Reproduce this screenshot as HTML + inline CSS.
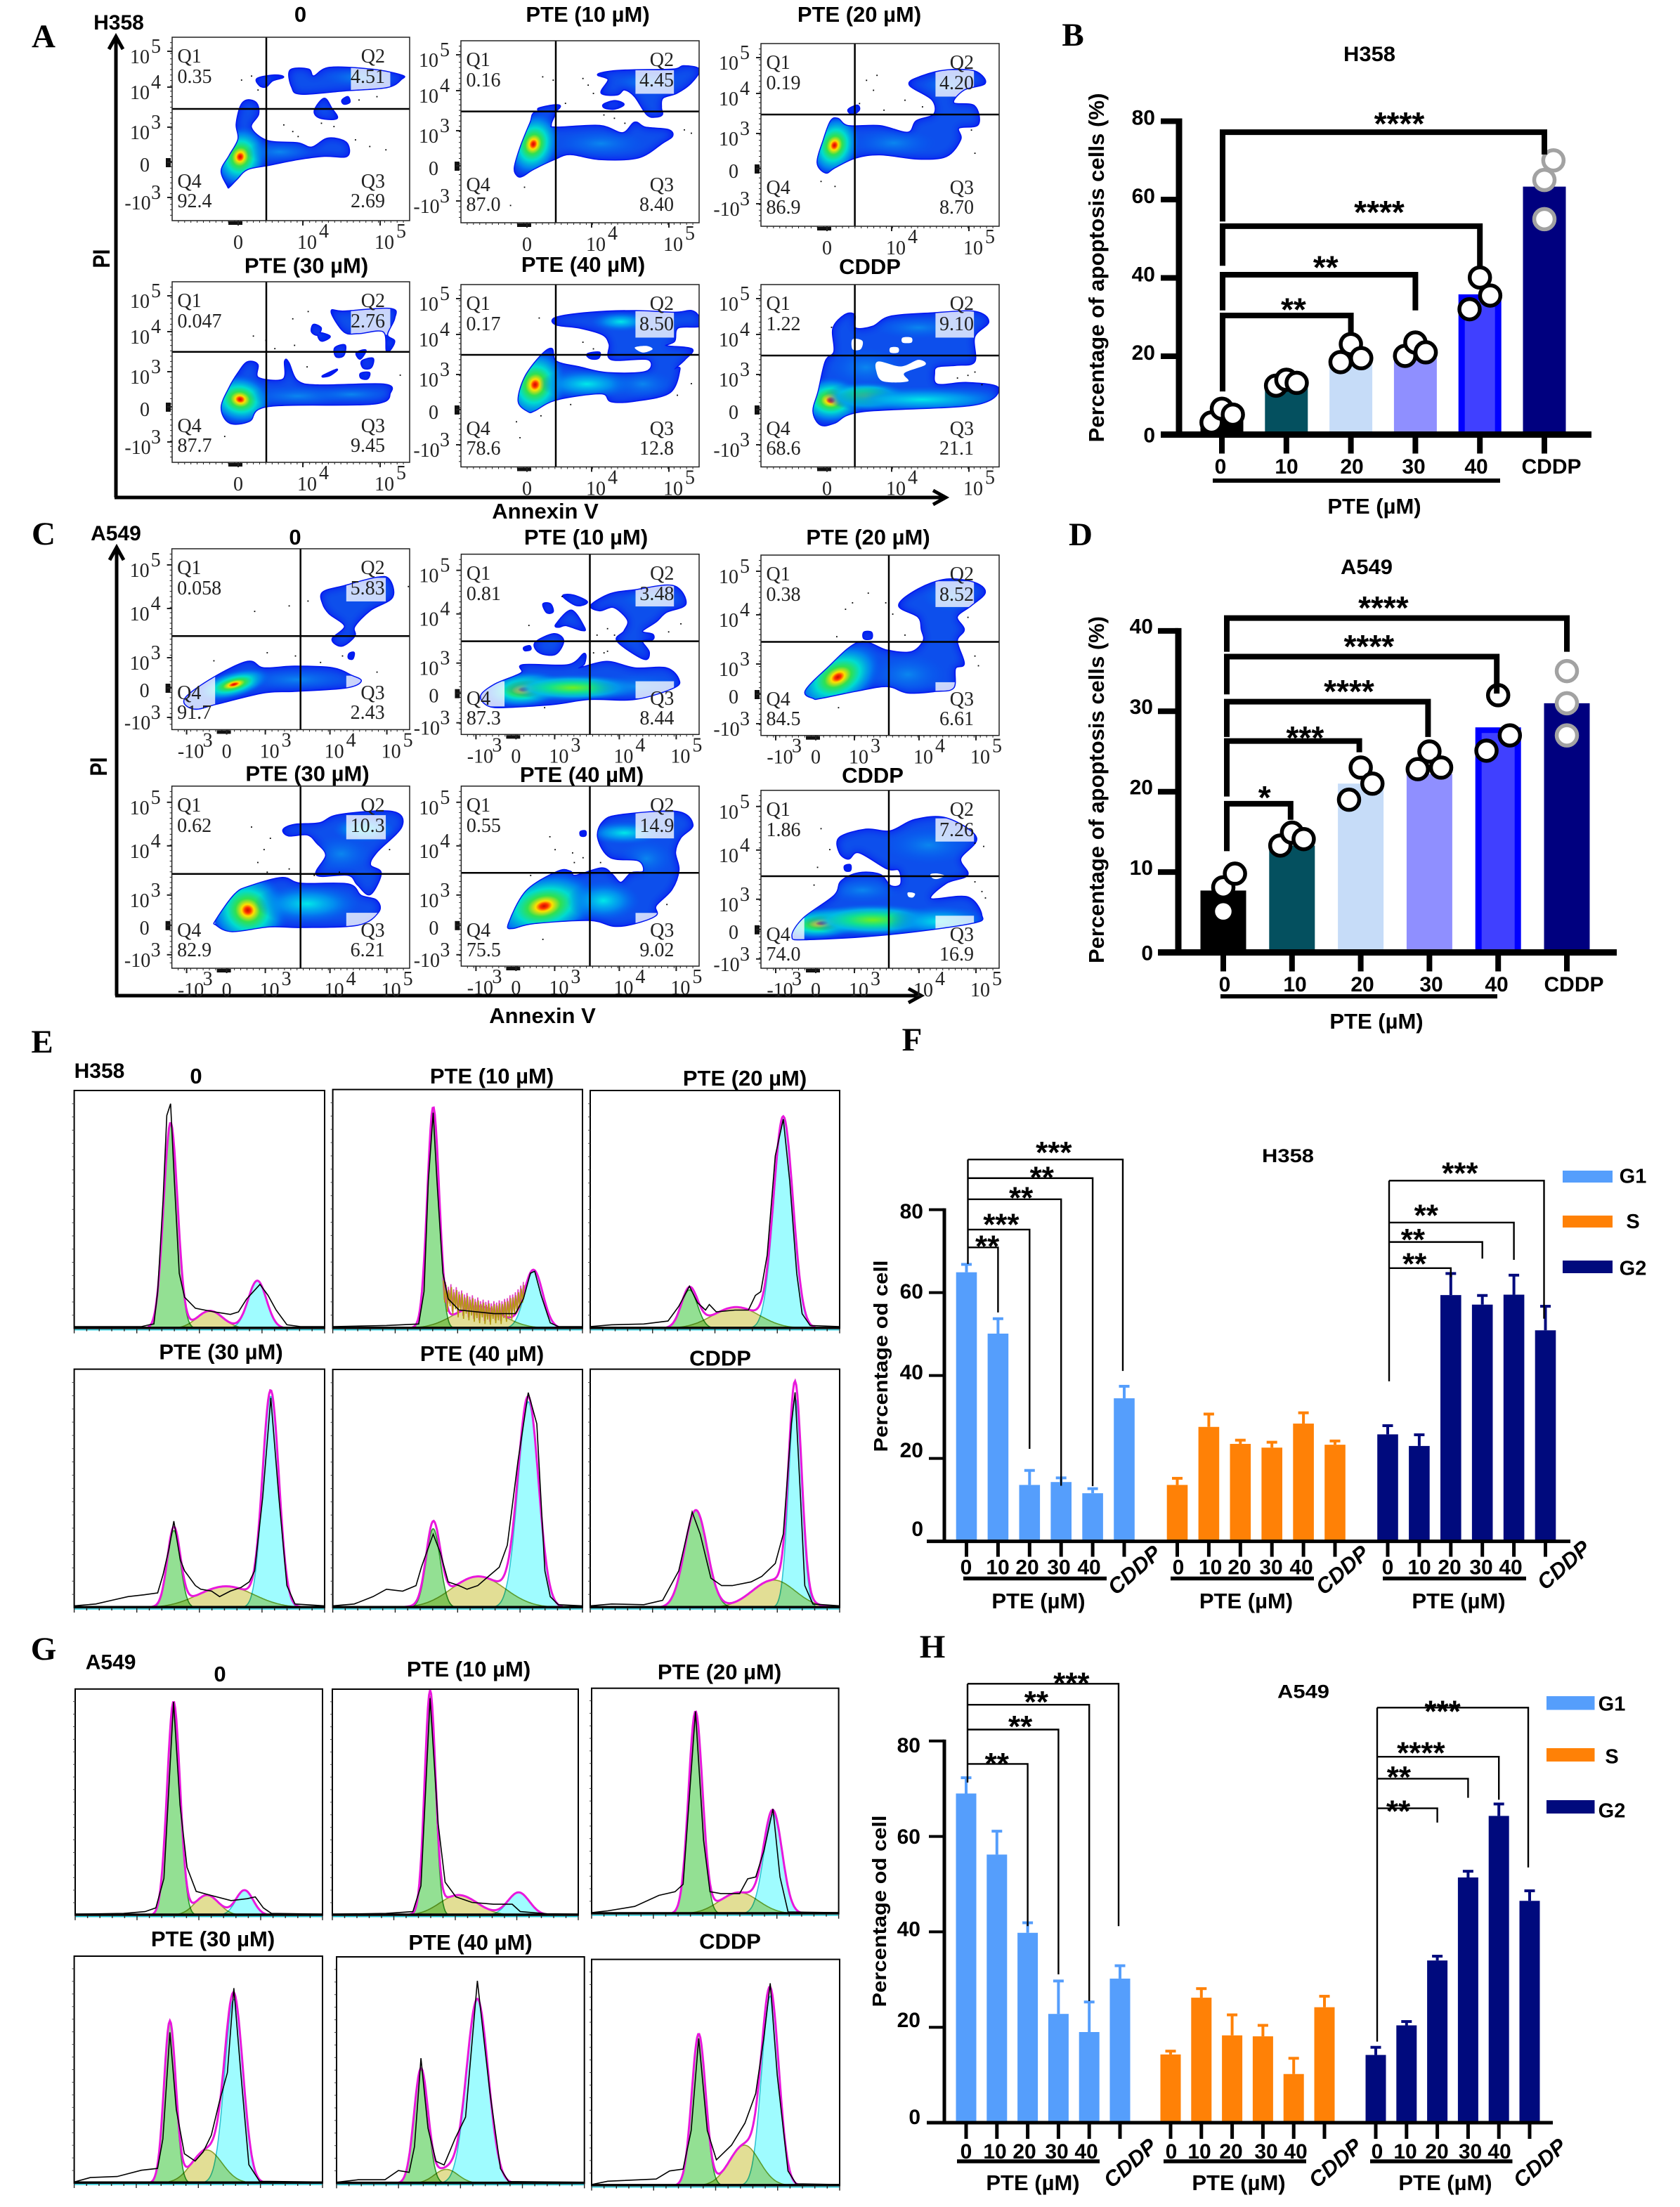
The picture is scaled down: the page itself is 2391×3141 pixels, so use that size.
<!DOCTYPE html>
<html><head><meta charset="utf-8"><title>Apoptosis and cell cycle figure</title>
<style>html,body{margin:0;padding:0;background:#fff}svg{display:block}</style></head>
<body>
<svg id="figure" xmlns="http://www.w3.org/2000/svg" width="2391" height="3141" viewBox="0 0 2391 3141">
<defs>
<filter id="soft" x="-20%" y="-20%" width="140%" height="140%"><feGaussianBlur stdDeviation="6"/></filter>
<radialGradient id="grad-hot"><stop offset="0" stop-color="#c81000"/><stop offset=".07" stop-color="#ff3000"/><stop offset=".15" stop-color="#ffe000"/><stop offset=".3" stop-color="#30e050"/><stop offset=".5" stop-color="#00dcd0"/><stop offset=".75" stop-color="#0088f0" stop-opacity=".85"/><stop offset="1" stop-color="#0050f0" stop-opacity="0"/></radialGradient>
<radialGradient id="grad-warm"><stop offset="0" stop-color="#70f020"/><stop offset=".35" stop-color="#10e090"/><stop offset=".65" stop-color="#00b8e8" stop-opacity=".9"/><stop offset="1" stop-color="#0060f0" stop-opacity="0"/></radialGradient>
<radialGradient id="grad-cool"><stop offset="0" stop-color="#00e8e8"/><stop offset=".5" stop-color="#0098f0" stop-opacity=".85"/><stop offset="1" stop-color="#0060f0" stop-opacity="0"/></radialGradient>
<radialGradient id="grad-pale"><stop offset="0" stop-color="#0a90f0" stop-opacity=".85"/><stop offset="1" stop-color="#0060f0" stop-opacity="0"/></radialGradient>
</defs>
</svg>
<script>
/* ---------- Panels A & C: density plot labels and contours (channel units) ---------- */
const flowTitlesA=['0','PTE (10 µM)','PTE (20 µM)','PTE (30 µM)','PTE (40 µM)','CDDP'];
const flowTitlesC=['0','PTE (10 µM)','PTE (20 µM)','PTE (30 µM)','PTE (40 µM)','CDDP'];
const quadValuesA=[['0.35','4.51','2.69','92.4'],['0.16','4.45','8.40','87.0'],['0.19','4.20','8.70','86.9'],['0.047','2.76','9.45','87.7'],['0.17','8.50','12.8','78.6'],['1.22','9.10','21.1','68.6']];
const quadValuesC=[['0.058','5.83','2.43','91.7'],['0.81','3.48','8.44','87.3'],['0.38','8.52','6.61','84.5'],['0.62','10.3','6.21','82.9'],['0.55','14.9','9.02','75.5'],['1.86','7.26','16.9','74.0']];
const flowYTickLabels=[['10','5'],['10','4'],['10','3'],['0',''],['-10','3']];
const flowXTickLabelsA=[['0',''],['10','4'],['10','5']];
const flowXTickLabelsC=[['-10','3'],['0',''],['10','3'],['10','4'],['10','5']];

const blobsA=[
 [[155,447,138,402,160,357,185,307,180,262,192,207,210,190,235,199,240,232,220,272,265,312,350,319,390,332,435,305,485,317,488,357,425,357,350,367,270,384,210,397,180,427,160,449],
  [330,100,380,97,395,118,440,92,560,98,640,115,640,125,600,150,480,160,360,170,335,150],
  [238,125,285,115,310,120,280,130,262,148,245,145],
  [400,215,425,185,445,215,460,243,425,245,402,235],
  [475,190,490,180,495,195,480,200]],
 [[162,407,154,382,172,317,199,247,212,217,267,212,257,252,272,262,397,257,462,279,497,247,527,262,592,269,604,287,577,307,507,352,397,357,312,342,267,357,207,387,177,407],
  [392,102,437,92,497,89,607,87,637,77,681,87,657,127,617,157,577,172,572,202,575,222,557,229,532,222,497,167,467,147,447,162,402,157,422,117],
  [409,192,440,182,465,192,440,205,412,202],
  [222,205,265,195,283,197,270,210,235,215]],
 [[185,389,162,359,180,289,200,234,220,227,250,249,340,249,420,269,445,234,495,214,490,169,425,124,460,99,530,81,610,84,640,119,580,139,550,179,610,189,620,244,565,254,570,289,530,339,450,347,340,334,270,344,210,374],
  [250,200,275,187,280,200,262,213]],
 [[160,425,138,380,160,320,185,275,210,243,238,250,240,290,310,295,315,240,325,245,350,300,410,313,590,310,608,335,560,368,270,375,215,420],
  [445,90,480,90,610,82,620,110,600,160,620,180,600,210,590,150,520,155,480,150],
  [395,130,415,140,405,160,390,150],[410,155,440,165,420,178,410,170],[455,200,482,192,478,222,458,225],[515,215,540,207,525,232],[530,240,560,232,555,258,535,260],[527,277,550,275,545,292,528,290],[420,285,460,265,440,282]],
 [[192,382,165,352,182,282,227,217,259,194,272,232,340,250,420,267,530,263,535,225,430,225,425,180,405,150,340,130,272,120,272,100,370,85,500,80,610,85,660,80,681,100,681,125,620,130,610,170,585,185,660,195,640,225,610,255,625,255,597,325,500,350,430,352,400,328,272,347,210,380],
  [362,210,395,205,392,222,370,222]],
 [[170,422,150,382,165,322,185,232,210,202,207,132,240,92,267,92,270,132,320,127,370,97,490,87,610,82,650,112,610,157,610,232,560,242,505,247,495,267,505,302,590,297,678,312,610,362,290,382,210,417]]
];
const holesA=[[],[],[],[],
 [[497,190,530,185,548,195,520,205]],
 [[335,232,400,247,450,227,470,242,410,267,420,292,350,292,330,262],[262,165,290,170,285,195,262,195],[370,190,392,190,392,205,370,205],[405,160,430,160,430,175,405,175]]
];
const hotA=[
 [[190,360,75,95,15,'hot'],[300,345,100,32,0,'pale'],[520,120,100,30,0,'pale']],
 [[207,312,75,100,18,'hot'],[400,310,130,42,0,'pale'],[530,125,90,28,0,'pale']],
 [[210,307,72,95,18,'hot'],[380,300,120,44,0,'pale'],[530,125,70,30,0,'pale']],
 [[190,355,90,76,10,'hot'],[350,345,140,32,0,'pale'],[500,340,110,24,0,'pale']],
 [[212,302,90,110,15,'hot'],[360,300,140,46,0,'cool'],[457,112,85,30,0,'cool'],[520,300,90,44,0,'pale']],
 [[200,349,95,72,0,'hot'],[300,337,120,44,0,'warm'],[460,347,280,40,0,'cool'],[450,130,130,35,0,'pale'],[300,250,110,60,0,'pale']]
];
const highlightA=[[499,80,609,160],[499,89,609,160],[499,80,609,160],[499,80,609,160],[499,80,609,160],[499,80,609,160]];
const scatterA=[
 [192,127,220,115,238,157,310,262,335,282,350,297,415,257,450,267,510,307,550,327,595,337,520,187,570,177],
 [232,107,262,117,347,112,362,132,377,157,297,187,407,222,437,232,467,247,657,277,637,267,140,495,180,440],
 [300,109,330,94,320,139,280,179,350,199,410,169,460,189,600,259,610,329,210,429,170,414],
 [378,88,335,110,260,175,225,162,340,190,285,200,375,255,635,280,145,465],
 [222,99,347,172,377,192,312,360,657,297,617,332,157,412,167,460,227,394],
 [200,127,590,272,610,262,560,280,630,300]
];

const blobsC=[
 [[21,465,66,400,121,350,146,370,196,365,256,370,286,393,301,410,276,430,196,440,146,445,71,480,36,495],
  [241,135,276,115,326,90,346,95,351,150,316,190,291,240,291,270,271,300,256,280,276,240,251,200,241,170],
  [283,325,290,322,288,340,282,338]],
 [[57,439,97,404,172,369,177,344,307,344,352,309,352,339,337,354,417,334,497,354,587,354,622,389,607,414,497,449,367,449,267,464,127,474,77,469],
  [372,159,427,124,497,112,607,99,642,154,587,179,557,209,517,239,547,249,547,264,517,269,537,304,522,324,447,269,467,239,477,204,437,164,397,174],
  [292,130,320,128,360,148,330,158],[235,155,255,155,262,178,245,180],[272,218,315,175,352,228,345,235,300,220,280,225],[212,275,265,248,292,268,270,309,225,305],[180,290,195,285,198,295,183,298]],
 [[150,443,128,421,190,351,280,271,360,296,430,301,465,266,460,231,450,191,395,156,450,106,530,76,610,86,640,116,600,156,560,191,580,231,560,266,580,336,555,351,550,411,500,421,420,426,360,406,270,421,170,443],
  [295,240,315,240,315,258,295,258]],
 [[71,430,71,415,101,335,126,310,176,285,206,303,281,305,301,340,326,355,329,390,296,430,206,437,156,435,96,450],
  [178,135,196,120,236,115,266,90,351,80,366,125,326,205,316,245,333,270,316,335,296,305,281,275,231,275,246,215,231,175,216,150,186,153]],
 [[137,425,187,325,277,265,312,265,327,278,402,255,432,275,457,300,487,270,522,265,507,230,427,220,392,160,407,110,457,90,617,80,662,120,627,160,612,205,622,260,602,320,557,370,557,400,497,425,437,433,367,415,207,425,147,440],
  [342,142,355,140,355,153,343,153]],
 [[90,452,122,397,210,327,230,282,280,257,340,262,370,297,400,292,395,247,360,242,280,192,250,212,225,192,225,147,300,122,370,127,440,92,530,87,615,147,570,212,590,262,530,287,485,337,590,332,630,387,600,412,360,447,130,462],
  [240,235,255,232,255,248,242,248]]
];
const holesC=[[],[],[],[],[],
 [[485,260,505,258,525,265,505,275,490,272],[420,317,440,320,435,332,422,330]]
];
const hotC=[
 [[99,420,60,42,-15,'hot'],[200,405,80,34,0,'pale']],
 [[180,419,120,56,-5,'hot'],[320,414,200,42,0,'warm'],[500,410,140,40,0,'pale'],[540,140,80,35,0,'pale']],
 [[220,378,135,95,-28,'hot'],[420,370,110,65,0,'pale'],[540,130,80,45,0,'pale']],
 [[121,385,66,120,20,'hot'],[216,365,85,60,0,'cool'],[306,135,50,40,0,'cool'],[270,210,50,60,0,'pale']],
 [[237,372,160,105,-12,'hot'],[407,355,105,62,0,'cool'],[467,145,115,36,0,'cool'],[530,225,80,60,0,'pale']],
 [[175,412,130,50,-5,'hot'],[320,402,200,50,0,'warm'],[510,407,150,50,0,'cool'],[480,170,130,60,0,'pale'],[290,310,110,40,0,'pale']]
];
const highlightC=[
 [[278,90,341,163],[278,393,341,430],[0,393,69,495]],
 [[499,94,609,162],[499,394,609,447],[0,394,124,472]],
 [[499,81,609,161],[499,394,609,421],[0,394,124,472]],
 [[278,90,341,165],[278,393,341,445],[0,393,69,495]],
 [[499,80,609,162],[499,393,609,425],[0,393,124,472]],
 [[499,87,609,159],[499,389,609,440],[0,389,124,462]]
];
const scatterC=[
 [131,192,186,175,216,160,151,320,196,330,236,350,326,380,66,345,271,330,376,115],
 [287,129,192,219,387,249,417,229,437,249,377,304,417,299,592,239,627,214,237,474,407,304],
 [305,116,355,146,240,166,260,146,375,181,410,246,590,191,610,311,620,341,215,251,220,471],
 [156,160,146,195,136,235,151,265,186,255,226,275,266,265,346,195,126,125],
 [252,155,267,195,317,205,322,235,347,220,397,235,197,275,232,473,587,365],
 [170,117,195,182,160,237,150,292,610,282,630,312,640,332,635,172,610,162]
];

/* ---------- Panels B & D: apoptosis bars ---------- */
const dotBarCategories=['0','10','20','30','40','CDDP'];
const bValues=[3.8,12.5,18,19.6,35.8,63.3];
const bDots=[[3.1,6.6,5.1],[12.5,14,13.2],[18.5,23.1,19.5],[20.1,23.5,21],[32,40.1,35.5],[55,65,70]];
const bJitter=[[-.16,0,.17],[-.16,0,.16],[-.16,0,.16],[-.16,0,.16],[-.16,0,.16],[0,0,.14]];
const bTickValues=[0,20,40,60,80];
const bBracketTo=[5,4,3,2];
const bBracketLevel=[77.2,53.2,40.8,30.4];
const bBracketLeftEnd=[54.4,43.1,31.7,11];
const bBracketRightEnd=[71.5,43.1,31.7,25.4];
const bStars=['****','****','**','**'];
const bStarCat=[2.75,2.44,1.61,1.11];
const bStarVal=[81,58.4,44.4,33.6];

const dValues=[7.7,13.3,21,22.2,28,31];
const dDots=[[5.1,8.1,9.8],[13.3,14.9,14.1],[19,23,21],[22.8,25,23],[25.1,32,27],[27,31,35]];
const dJitter=[[0,0,.17],[-.17,0,.17],[-.17,0,.17],[-.17,0,.17],[-.17,0,.17],[0,0,0]];
const dTickValues=[0,10,20,30,40];
const dBracketTo=[5,4,3,2,1];
const dBracketLevel=[41.6,36.8,31.2,26.3,18.5];
const dBracketLeftEnd=[37.4,32.1,26.8,19.4,12.6];
const dBracketRightEnd=[37.4,32.2,26.8,24.9,16.5];
const dStars=['****','****','****','***','*'];
const dStarCat=[2.33,2.12,1.83,1.19,.6];
const dStarVal=[43.7,38.9,33.3,27.5,20.1];

/* ---------- Panels E & G: cell-cycle fits ---------- */
const histTitlesE=['0','PTE (10 µM)','PTE (20 µM)','PTE (30 µM)','PTE (40 µM)','CDDP'];
const histTitlesG=['0','PTE (10 µM)','PTE (20 µM)','PTE (30 µM)','PTE (40 µM)','CDDP'];
const eG1Center=[179,187,185,185,187,197], eG1Height=[560,590,105,210,215,265], eG1Spread=[13,11,15,12,13,21];
const eSCenter=[252,270,272,282,271,342], eSHeight=[48,60,58,58,85,75], eSSpread=[24,45,44,52,50,40];
const eG2Center=[340,374,360,365,364,382], eG2Height=[130,155,570,575,560,570], eG2Spread=[17,17,18,15,19,12];
const gG1Center=[183,182,193,178,157,199], gG1Height=[580,595,546,437,309,412], gG1Spread=[12,10,13,11,13,13];
const gSCenter=[245,235,274,247,204,284], gSHeight=[55,55,58,90,38,110], gSSpread=[22,35,36,28,22,28];
const gG2Center=[315,347,337,297,262,332], gG2Height=[68,62,270,500,500,515], gG2Spread=[16,20,17,17,20,16];
const eRaw=[
 [0,5,125,5,140,10,148,12,155,100,165,350,172,580,179,612,186,400,195,150,205,85,225,55,260,45,290,38,305,45,320,80,345,120,360,90,375,50,395,10,420,5,465,5],
 [0,5,100,8,160,12,170,100,178,400,187,585,194,400,205,150,215,80,235,50,300,40,340,40,355,80,368,150,376,155,388,90,405,15,420,5,465,5],
 [0,5,40,10,100,12,145,20,165,60,185,115,200,70,215,50,222,65,235,45,270,50,295,50,308,90,318,100,330,200,345,470,360,570,372,400,385,150,395,40,410,8,465,5],
 [0,5,40,10,70,20,100,30,130,35,155,40,165,90,176,160,185,235,197,130,205,100,225,60,235,50,255,45,270,30,290,45,310,55,325,70,335,100,350,300,365,570,380,300,395,60,410,10,465,5],
 [0,5,40,10,75,30,100,50,130,45,155,60,165,110,187,200,200,150,215,70,235,60,250,50,270,60,290,85,310,110,325,170,345,400,364,585,380,500,395,100,405,30,420,8,465,5],
 [0,5,40,10,100,8,135,20,165,100,190,260,205,200,225,80,245,60,265,60,300,70,320,85,345,120,360,200,375,500,382,585,392,300,400,60,415,10,465,5]
];
const gRaw=[
 [0,3,90,5,130,10,150,20,165,100,183,580,195,300,208,130,225,65,250,55,290,40,320,45,335,50,350,20,365,5,460,3],
 [0,3,100,5,150,10,165,80,182,590,197,250,210,90,230,50,260,35,300,30,335,30,350,10,400,4,458,3],
 [0,3,30,8,80,20,125,50,155,60,170,80,193,550,208,200,220,60,240,55,275,55,290,95,305,100,320,170,337,285,350,100,365,5,458,3],
 [0,3,30,15,80,18,125,35,155,40,165,120,178,410,190,200,205,80,225,60,240,85,255,130,270,220,285,300,297,530,310,300,325,50,345,5,460,3],
 [0,3,40,10,90,10,115,35,135,30,145,100,157,340,170,150,185,60,200,50,220,120,240,180,262,550,285,250,305,40,320,5,460,3],
 [0,3,30,12,120,18,145,40,170,45,185,150,199,400,215,150,232,70,260,110,285,170,305,250,320,400,332,550,345,300,365,40,380,5,460,3]
];
const e2SpikeValues=[130,70,118,45,105,60,112,38,98,52,104,30,92,48,95,26,84,40,88,22,78,35,82,18,72,28,76,14,66,30,70,12,64,24,68,10,60,26,66,14,62,22,68,12,66,28,72,18,74,30,82,24,84,38,90,44,98,56,108,70,118];

/* ---------- Panels F & H: cell-cycle phase bars ---------- */
const phaseCategories=['0','10','20','30','40'];
const phaseNames=['G1','S','G2'];
const fTickValues=[0,20,40,60,80];
const fG1=[64.9,50.1,13.6,14.3,11.6,34.5], fG1Err=[66.8,53.7,17.1,15.3,12.7,37.4];
const fS=[13.6,27.6,23.5,22.6,28.4,23.3], fSErr=[15.2,30.7,24.4,23.9,31,24.2];
const fG2=[25.8,23,59.4,57.1,59.5,50.9], fG2Err=[27.9,25.7,64.6,59.3,64.2,56.7];
const fLeftTo=[5,4,3,2,1], fLeftLevel=[92.1,87.6,82.5,75.2,70.9], fLeftEnd=[41.1,13.3,13.4,22.3,55.2], fLeftBase=66.9;
const fLeftStars=['***','**','**','***','**'], fLeftStarCat=[2.77,2.39,1.73,1.1,.66], fLeftStarVal=[95.4,89.4,84.5,78,72.8];
const fRightTo=[5,4,3,2], fRightLevel=[87,76.9,72.2,65.9], fRightEnd=[53.7,67.9,68.2,63.7], fRightBase=38.6;
const fRightStars=['***','**','**','**'], fRightStarCat=[2.29,1.22,.8,.85], fRightStarVal=[90.4,80.2,74.4,68.5];
const hG1=[69,56.2,39.8,22.8,19,30.2], hG1Err=[72.3,61.1,41.9,29.7,25.3,32.9];
const hS=[14.3,26.2,18.3,18.1,10.2,24.2], hSErr=[15,28.1,22.6,20.4,13.5,26.5];
const hG2=[14.2,20.4,34,51.4,64.3,46.5], hG2Err=[15.8,21.2,34.9,52.7,66.8,48.6];
const hLeftTo=[5,4,3,2], hLeftLevel=[92,87.6,82.4,75.2], hLeftEnd=[41.2,25.5,31.1,41.2], hLeftBase=71.3;
const hLeftStars=['***','**','**','**'], hLeftStarCat=[3.42,2.28,1.76,1], hLeftStarVal=[93.5,89.6,84.4,76.6];
const hRightTo=[5,4,3,2], hRightLevel=[87,76.7,72.1,65.9], hRightEnd=[53.5,67.7,68.1,62.9], hRightBase=17;
const hRightStars=['***','****','**','**'], hRightStarCat=[2.17,1.47,.75,.73], hRightStarVal=[87.6,78.9,73.8,66.7];

/* ---------- helpers ---------- */
const NS='http://www.w3.org/2000/svg';
const root=document.getElementById('figure');
const SANS='"Liberation Sans", sans-serif', SERIF='"Liberation Serif", serif';
function add(parent,tag,attrs,name){
  const e=document.createElementNS(NS,tag);
  for(const k in attrs) e.setAttribute(k,attrs[k]);
  
  
  parent.appendChild(e);
  return e;
}
function label(parent,x,y,str,name,o){
  o=o||{};
  const size=o.size||30;
  const a={x:x,y:y+(o.raw?0:.36*size),'font-size':size,'font-family':o.family||SANS,'text-anchor':o.anchor||'middle',fill:o.fill||'#000'};
  if(o.weight!==0) a['font-weight']='bold';
  if(o.weight===0) a['font-weight']='normal';
  if(o.italic) a['font-style']='italic';
  if(o.rot!==undefined) a.transform='rotate('+o.rot+' '+x+' '+y+')';
  if(o.len){a.textLength=o.len;a.lengthAdjust='spacingAndGlyphs';}
  const t=add(parent,'text',a,name);
  t.textContent=str;
  return t;
}
function stars(parent,x,cy,str,name,size){
  size=size||46;
  return label(parent,x,cy+.55*size,str,name,{size:size,raw:true});
}
function pairs(flat){const p=[];for(let i=0;i<flat.length;i+=2)p.push([flat[i],flat[i+1]]);return p;}
function smoothClosed(pts){
  const n=pts.length;let d='M'+pts[0][0].toFixed(1)+' '+pts[0][1].toFixed(1);
  for(let i=0;i<n;i++){
    const a=pts[(i-1+n)%n],b=pts[i],c=pts[(i+1)%n],e=pts[(i+2)%n];
    d+='C'+(b[0]+(c[0]-a[0])/6).toFixed(1)+' '+(b[1]+(c[1]-a[1])/6).toFixed(1)+' '+(c[0]-(e[0]-b[0])/6).toFixed(1)+' '+(c[1]-(e[1]-b[1])/6).toFixed(1)+' '+c[0].toFixed(1)+' '+c[1].toFixed(1);
  }
  return d+'Z';
}
function line(parent,x1,y1,x2,y2,w,col,name,cap){
  return add(parent,'line',{x1:x1,y1:y1,x2:x2,y2:y2,stroke:col||'#000','stroke-width':w,'stroke-linecap':cap||'butt'},name);
}
function panelLetter(s,x,y){label(root,x,y,s,'panel-label-'+s.toLowerCase(),{size:47,family:SERIF});}

/* ---------- flow density plots ---------- */
let clipCounter=0;
function flowPlot(parent,f,title,titlePos,quad,blobs,holes,hot,rects,scatter,yTicks,xTicks,xLabels,name){
  const g=add(parent,'g',{},name);
  const X=c=>f.x+c/f.cw*f.w, Y=c=>f.y+c/f.ch*f.h;
  label(g,titlePos[0],titlePos[1],title,'plot-title',{size:31});
  const boxId='flowbox'+(++clipCounter), blobId='flowblob'+clipCounter;
  const cb=add(g,'clipPath',{id:boxId},'plot-clip');
  add(cb,'rect',{x:f.x,y:f.y,width:f.w,height:f.h},'plot-clip-rect');
  const cl=add(g,'clipPath',{id:blobId},'density-clip');
  const paths=blobs.map(b=>smoothClosed(pairs(b).map(p=>[X(p[0]),Y(p[1])])));
  paths.forEach(d=>add(cl,'path',{d:d},'density-clip-path'));
  const inner=add(g,'g',{'clip-path':'url(#'+boxId+')'},'density-area');
  paths.forEach(d=>add(inner,'path',{d:d,fill:'#0014f0',stroke:'#0014f0','stroke-width':3,'stroke-linejoin':'round'},'density-contour'));
  const core=add(inner,'g',{'clip-path':'url(#'+blobId+')'},'density-core');
  const glow=add(core,'g',{filter:'url(#soft)'},'density-glow');
  paths.forEach(d=>add(glow,'path',{d:d,fill:'#0a50ec'},'density-glow-shape'));
  hot.forEach(h=>{
    add(core,'ellipse',{cx:X(h[0]),cy:Y(h[1]),rx:h[2]/f.cw*f.w,ry:h[3]/f.ch*f.h,fill:'url(#grad-'+h[5]+')',transform:'rotate('+h[4]+' '+X(h[0])+' '+Y(h[1])+')'},'density-peak-'+h[5]);
  });
  holes.forEach(b=>add(inner,'path',{d:smoothClosed(pairs(b).map(p=>[X(p[0]),Y(p[1])])),fill:'#fff'},'density-hole'));
  const hl=add(inner,'g',{'clip-path':'url(#'+blobId+')'},'gate-highlights');
  rects.forEach(r=>add(hl,'rect',{x:X(r[0]),y:Y(r[1]),width:X(r[2])-X(r[0]),height:Y(r[3])-Y(r[1]),fill:'#fff','fill-opacity':.78},'gate-highlight'));
  pairs(scatter).forEach(p=>add(inner,'rect',{x:X(p[0]),y:Y(p[1]),width:1.8,height:1.8,fill:'#000'},'event-dot'));
  line(g,f.vx,f.y,f.vx,f.y+f.h,2.5,'#000','quadrant-vertical');
  line(g,f.x,f.hy,f.x+f.w,f.hy,2.5,'#000','quadrant-horizontal');
  add(g,'rect',{x:f.x,y:f.y,width:f.w,height:f.h,fill:'none',stroke:'#222','stroke-width':1.5},'plot-frame');
  const qs={size:28,family:SERIF,weight:0,fill:'#222'};
  const left=f.x+7.5,right=f.x+303,top=f.y;
  label(g,left,top+26,'Q1','q1-label',{...qs,anchor:'start'});
  label(g,left,top+55,quad[0],'q1-value',{...qs,anchor:'start'});
  label(g,right,top+26,'Q2','q2-label',{...qs,anchor:'end'});
  label(g,right,top+55,quad[1],'q2-value',{...qs,anchor:'end'});
  label(g,right,top+204,'Q3','q3-label',{...qs,anchor:'end'});
  label(g,right,top+232,quad[2],'q3-value',{...qs,anchor:'end'});
  label(g,left,top+204,'Q4','q4-label',{...qs,anchor:'start'});
  label(g,left,top+232,quad[3],'q4-value',{...qs,anchor:'start'});
  /* axis ticks */
  const bottom=f.y+f.h;
  for(let i=1;i<38;i++) line(g,f.x+i*f.w/38,bottom,f.x+i*f.w/38,bottom+3,1,'#222','x-minor-tick');
  for(let i=1;i<34;i++) line(g,f.x,f.y+i*f.h/34,f.x-3,f.y+i*f.h/34,1,'#222','y-minor-tick');
  const zeroX=f.zeroX;
  add(g,'rect',{x:f.x+zeroX-14,y:bottom+1,width:20,height:5,fill:'#111'},'x-zero-cluster');
  add(g,'rect',{x:f.x-9,y:f.y+yTicks[3]-6,width:7,height:13,fill:'#111'},'y-zero-cluster');
  const base={size:28,family:SERIF,weight:0,fill:'#222',raw:true};
  yTicks.forEach((t,i)=>{
    line(g,f.x,f.y+t,f.x-7,f.y+t,2,'#222','y-major-tick');
    const l=flowYTickLabels[i];
    if(l[1]==='') label(g,f.x-39,f.y+t+13,l[0],'y-tick-label',base);
    else{
      label(g,f.x-(l[0]==='-10'?49:46),f.y+t+17,l[0],'y-tick-label',base);
      label(g,f.x-23,f.y+t+2,l[1],'y-tick-exponent',base);
    }
  });
  xTicks.forEach((t,i)=>{
    line(g,f.x+t,bottom,f.x+t,bottom+7,2,'#222','x-major-tick');
    const l=xLabels[i];
    if(l[1]==='') label(g,f.x+t,bottom+40,l[0],'x-tick-label',base);
    else{
      label(g,f.x+t+(l[0]==='-10'?6:6),bottom+40,l[0],'x-tick-label',base);
      label(g,f.x+t+30,bottom+24,l[1],'x-tick-exponent',base);
    }
  });
}
function arrowAxes(parent,x,top,bottom,right){
  line(parent,x,bottom,x,top+3,5,'#000','y-axis-arrow-line');
  add(parent,'polyline',{points:(x-10)+','+(top+18)+' '+x+','+top+' '+(x+10)+','+(top+18),fill:'none',stroke:'#000','stroke-width':5},'y-axis-arrow-head');
  line(parent,x-2,bottom,right-3,bottom,5,'#000','x-axis-arrow-line');
  add(parent,'polyline',{points:(right-18)+','+(bottom-10)+' '+right+','+bottom+' '+(right-18)+','+(bottom+10),fill:'none',stroke:'#000','stroke-width':5},'x-axis-arrow-head');
}
const framesA=[
 {x:245,y:53,w:338,h:261,vx:379,hy:155,cw:663,ch:552,zeroX:94},
 {x:656,y:58,w:339,h:259,vx:791,hy:158.6,cw:681,ch:549,zeroX:94},
 {x:1083,y:62,w:339,h:260,vx:1216.6,hy:163,cw:681,ch:551,zeroX:94},
 {x:245,y:401,w:338,h:257,vx:379,hy:500.7,cw:663,ch:545,zeroX:94},
 {x:656,y:405,w:339,h:259.5,vx:791,hy:505,cw:681,ch:550,zeroX:94},
 {x:1083,y:405,w:339,h:259.5,vx:1216.6,hy:506,cw:681,ch:550,zeroX:94}
];
const framesC=[
 {x:244.6,y:781,w:338.4,h:257.4,vx:427.7,hy:905.3,cw:379,ch:560,zeroX:78},
 {x:656.4,y:788.7,w:338.6,h:256.6,vx:839.5,hy:912.6,cw:681,ch:559,zeroX:78},
 {x:1083,y:790,w:339,h:256.7,vx:1265,hy:913.5,cw:681,ch:559,zeroX:78},
 {x:244.6,y:1118.8,w:338.4,h:259.2,vx:427.7,hy:1243.7,cw:379,ch:565,zeroX:78},
 {x:656.4,y:1118.8,w:338.6,h:256.2,vx:839.5,hy:1242.3,cw:681,ch:558,zeroX:78},
 {x:1083,y:1124.8,w:339,h:253.2,vx:1265,hy:1247,cw:681,ch:552,zeroX:78}
];
const titlesPosA=[[427.5,20],[836.5,20],[1223,20],[436,377.5],[830,376],[1238,379]];
const titlesPosC=[[420,764],[834,764],[1235.5,764],[437.5,1100.4],[828,1102],[1242,1102.7]];
const gA=add(root,'g',{},'panel-a-flow-h358');
arrowAxes(gA,165,52,708,1346);
label(gA,169,31,'H358','cell-line-label',{size:30});
label(gA,144,368,'PI','y-axis-title',{size:34,rot:-90,len:27});
label(gA,776,727,'Annexin V','x-axis-title',{size:31});
framesA.forEach((f,i)=>flowPlot(gA,f,flowTitlesA[i],titlesPosA[i],quadValuesA[i],blobsA[i],holesA[i],hotA[i],[highlightA[i]],scatterA[i],[20,71,128,178,228],[94,186,296],flowXTickLabelsA,'flow-plot-h358-'+i));
const gC=add(root,'g',{},'panel-c-flow-a549');
arrowAxes(gC,166,779,1417,1311);
label(gC,165,758,'A549','cell-line-label',{size:30});
label(gC,140,1091,'PI','y-axis-title',{size:34,rot:-90,len:27});
label(gC,772,1445,'Annexin V','x-axis-title',{size:31});
framesC.forEach((f,i)=>flowPlot(gC,f,flowTitlesC[i],titlesPosC[i],quadValuesC[i],blobsC[i],holesC[i],hotC[i],highlightC[i],scatterC[i],[23,85,155,198,240],[21,78,133,225,306],flowXTickLabelsC,'flow-plot-a549-'+i));

/* ---------- dot + bar panels ---------- */
const dotBarColors=['#000','#04505f','#c6dcf8','#8f8fff','#0000ff','#00007f'];
function dotBarChart(c){
  const g=add(root,'g',{},c.name);
  const X=i=>c.x0+i*c.dx, Y=v=>c.y0-v*c.k;
  label(g,c.titlePos[0],c.titlePos[1],c.title,'chart-title',{size:30,len:74});
  label(g,1560,c.ytCenter,'Percentage of apoptosis cells (%)','y-axis-title',{size:31,rot:-90,len:c.ytLen});
  c.values.forEach((v,i)=>{
    add(g,'rect',{x:X(i)-c.bw/2,y:Y(v),width:c.bw,height:v*c.k,fill:dotBarColors[i]},'bar-'+dotBarCategories[i]);
    if(i===4) add(g,'rect',{x:X(i)-c.bw/2+9,y:Y(v)+8,width:c.bw-18,height:v*c.k-8,fill:'#4040ff'},'bar-40-inner');
  });
  c.dots.forEach((ds,i)=>ds.forEach((v,j)=>{
    add(g,'circle',{cx:X(i+c.jitter[i][j]),cy:Y(v),r:14.5,fill:'#fff',stroke:i===5?'#a2a2a2':'#000','stroke-width':5.5},'data-point-'+dotBarCategories[i]);
  }));
  /* axes */
  line(g,c.axisX,Y(c.ticks[c.ticks.length-1])-4,c.axisX,Y(0)+4,9,'#000','y-axis-line');
  line(g,c.tickLeft,Y(0),c.axisRight,Y(0),9,'#000','x-axis-line');
  c.ticks.forEach(t=>{
    line(g,c.tickLeft,Y(t),c.axisX,Y(t),8,'#000','y-tick');
    label(g,c.labelRight,Y(t)-c.labelLift*(t?1:0),String(t),'y-tick-label',{size:30,anchor:'end'});
  });
  dotBarCategories.forEach((s,i)=>{
    line(g,X(i),Y(0),X(i),Y(0)+27,8,'#000','x-tick');
    label(g,c.xLabels[i],c.xLabelY,s,'x-tick-label',{size:30});
  });
  line(g,c.under[0],c.under[2],c.under[1],c.under[2],6,'#000','pte-dose-bar');
  label(g,c.ptePos[0],c.ptePos[1],'PTE (µM)','x-axis-title',{size:31});
  /* significance brackets */
  const lx=X(0)+c.bracketShift;
  c.to.forEach((t,i)=>{
    const y=Y(c.level[i]);
    const rx=X(t)+(t===5?0:c.rightShift);
    add(g,'polyline',{points:lx+','+Y(c.leftEnd[i])+' '+lx+','+y+' '+rx+','+y+' '+rx+','+Y(c.rightEnd[i]),fill:'none',stroke:'#000','stroke-width':8,'stroke-linejoin':'miter'},'significance-bracket');
    stars(g,X(c.starCat[i]),Y(c.starVal[i]),c.stars[i],'significance-stars');
  });
}
dotBarChart({name:'panel-b-apoptosis-h358',x0:1739,dx:91.8,y0:618.5,k:5.575,bw:61,values:bValues,dots:bDots,jitter:bJitter,ticks:bTickValues,
 to:bBracketTo,level:bBracketLevel,leftEnd:bBracketLeftEnd,rightEnd:bBracketRightEnd,stars:bStars,starCat:bStarCat,starVal:bStarVal,
 title:'H358',titlePos:[1949,76],ytCenter:381,ytLen:497,axisX:1678,tickLeft:1652,axisRight:2265,labelRight:1644,labelLift:6,
 xLabels:[1737,1831,1924,2012,2101,2208],xLabelY:663,under:[1726,2135,684],ptePos:[1956,720],bracketShift:1,rightShift:0});
dotBarChart({name:'panel-d-apoptosis-a549',x0:1741,dx:97.8,y0:1355.5,k:11.44,bw:65,values:dValues,dots:dDots,jitter:dJitter,ticks:dTickValues,
 to:dBracketTo,level:dBracketLevel,leftEnd:dBracketLeftEnd,rightEnd:dBracketRightEnd,stars:dStars,starCat:dStarCat,starVal:dStarVal,
 title:'A549',titlePos:[1945,806],ytCenter:1124,ytLen:494,axisX:1677,tickLeft:1648,axisRight:2301,labelRight:1641,labelLift:7,
 xLabels:[1743,1843,1939,2037,2130,2240],xLabelY:1400,under:[1737,2131,1418],ptePos:[1959,1453],bracketShift:5,rightShift:-2});

/* ---------- histograms ---------- */
function gaussianCurve(center,height,spread,cw){
  const out=[];
  for(let c=0;c<=cw;c+=2){const z=(c-center)/spread;out.push([c,height*Math.exp(-.5*z*z)]);}
  return out;
}
function histogram(parent,f,title,titlePos,peaks,raw,spikes,name){
  const g=add(parent,'g',{},name);
  const X=c=>f.x+c/f.cw*f.w, Y=h=>f.base-h/f.ch*(f.base-f.top);
  label(g,titlePos[0],titlePos[1],title,'plot-title',{size:31});
  add(g,'rect',{x:f.x,y:f.top,width:f.w,height:f.base-f.top,fill:'#fff',stroke:'#000','stroke-width':2},'plot-frame');
  const styles=[['#93e093','#2a962a','g1'],['#e2de95','#8fa030','s'],['#9ffcff','#30c4d4','g2']];
  const curves=peaks.map(p=>gaussianCurve(p[0],p[1],p[2],f.cw));
  [1,0,2].forEach(k=>{
    const pts=curves[k].filter(q=>q[1]>1.5);
    if(!pts.length) return;
    const d='M'+X(pts[0][0])+' '+f.base+pts.map(q=>'L'+X(q[0]).toFixed(1)+' '+Y(q[1]).toFixed(1)).join('')+'L'+X(pts[pts.length-1][0])+' '+f.base+'Z';
    add(g,'path',{d:d,fill:styles[k][0],stroke:styles[k][1],'stroke-width':1.6,style:'mix-blend-mode:multiply'},'peak-'+styles[k][2]);
  });
  const fit=curves[0].map((q,i)=>[q[0],q[1]+curves[1][i][1]+curves[2][i][1]]);
  const shown=fit.filter(q=>q[1]>2);
  add(g,'polyline',{points:shown.map(q=>X(q[0]).toFixed(1)+','+Y(q[1]).toFixed(1)).join(' '),fill:'none',stroke:'#e818dc','stroke-width':3},'fit-line');
  if(spikes){
    add(g,'polyline',{points:spikes.map((v,i)=>X(205+i*2.5)+','+Y(v+8)).join(' '),fill:'none',stroke:'#e040c0','stroke-width':1.6},'fit-spikes');
    add(g,'polyline',{points:spikes.map((v,i)=>X(206+i*2.5)+','+Y(v)).join(' '),fill:'none',stroke:'#b39a10','stroke-width':1.6},'s-phase-spikes');
  }
  add(g,'polyline',{points:pairs(raw).map(p=>X(p[0]).toFixed(1)+','+Y(p[1]).toFixed(1)).join(' '),fill:'none',stroke:'#000','stroke-width':1.6},'measured-trace');
  line(g,f.x,f.base-1,f.x+f.w,f.base-1,3,'#000','baseline');
  line(g,f.x,f.base+2,f.x+f.w,f.base+2,1.5,'#20c8d8','baseline-tint');
  const n=20;
  for(let i=0;i<=n;i++) line(g,f.x+i*f.w/n,f.base,f.x+i*f.w/n,f.base+(i%5?4:7),1.4,'#222','x-tick');
  for(let i=1;i<18;i++) line(g,f.x,f.base-i*(f.base-f.top)/18,f.x-3,f.base-i*(f.base-f.top)/18,1,'#444','y-tick');
}
const framesE=[
 {x:105.6,top:1552,w:356.4,base:1890.6,cw:465,ch:648},{x:473.6,top:1550.6,w:355.4,base:1890.6,cw:465,ch:648},{x:840,top:1552,w:355,base:1890.6,cw:465,ch:648},
 {x:105.6,top:1948.6,w:356.4,base:2288,cw:465,ch:648},{x:473.6,top:1949,w:355.4,base:2288,cw:465,ch:648},{x:840,top:1948.6,w:355,base:2288,cw:465,ch:648}
];
const framesG=[
 {x:107,top:2403.8,w:352,base:2725.8,cw:460,ch:615},{x:473,top:2404,w:350,base:2725.8,cw:458,ch:615},{x:842,top:2402.7,w:351.6,base:2723.7,cw:459,ch:613},
 {x:105.6,top:2784,w:353.4,base:3107,cw:462,ch:617},{x:479,top:2785,w:352.7,base:3107.4,cw:461,ch:615},{x:842,top:2788.6,w:353,base:3110.6,cw:461,ch:615}
];
const titlesPosE=[[279,1531],[700,1530.7],[1060,1534],[314.5,1923.5],[686,1926],[1025,1932.4]];
const titlesPosG=[[313,2382],[667,2375],[1024,2378.6],[303,2758.7],[669.5,2764],[1039,2762.4]];
const gE=add(root,'g',{},'panel-e-cell-cycle-h358');
label(gE,141.5,1523.4,'H358','cell-line-label',{size:30});
framesE.forEach((f,i)=>histogram(gE,f,histTitlesE[i],titlesPosE[i],[[eG1Center[i],eG1Height[i],eG1Spread[i]],[eSCenter[i],eSHeight[i],eSSpread[i]],[eG2Center[i],eG2Height[i],eG2Spread[i]]],eRaw[i],i===1?e2SpikeValues:null,'histogram-h358-'+i));
const gG=add(root,'g',{},'panel-g-cell-cycle-a549');
label(gG,157.6,2364.5,'A549','cell-line-label',{size:30});
framesG.forEach((f,i)=>histogram(gG,f,histTitlesG[i],titlesPosG[i],[[gG1Center[i],gG1Height[i],gG1Spread[i]],[gSCenter[i],gSHeight[i],gSSpread[i]],[gG2Center[i],gG2Height[i],gG2Spread[i]]],gRaw[i],null,'histogram-a549-'+i));

/* ---------- phase bar panels ---------- */
const phaseColors=['#559efc','#ff8106','#000a7d'];
function phaseChart(c){
  const g=add(root,'g',{},c.name);
  const X=(grp,i)=>c.starts[grp]+i*c.dx, Y=v=>c.y0-v*c.k;
  label(g,c.titlePos[0],c.titlePos[1],c.title,'chart-title',{size:27,len:74});
  label(g,c.ytX,c.ytCenter,'Percentage od cell','y-axis-title',{size:28,rot:-90,len:273});
  c.series.forEach((s,grp)=>{
    s[0].forEach((v,i)=>{
      const x=X(grp,i);
      line(g,x,Y(v),x,Y(s[1][i]),4,phaseColors[grp],'error-bar-'+phaseNames[grp]);
      line(g,x-7.5,Y(s[1][i]),x+7.5,Y(s[1][i]),4,phaseColors[grp],'error-cap-'+phaseNames[grp]);
      add(g,'rect',{x:x-c.bw/2,y:Y(v),width:c.bw,height:v*c.k,fill:phaseColors[grp]},'bar-'+phaseNames[grp]+'-'+(i<5?phaseCategories[i]:'cddp'));
    });
  });
  line(g,c.axisX,Y(80)-2,c.axisX,Y(0)+2,5,'#000','y-axis-line');
  line(g,c.tickLeft,Y(0),c.axisRight,Y(0),5,'#000','x-axis-line');
  c.ticks.forEach(t=>{
    line(g,c.tickLeft+3,Y(t),c.axisX,Y(t),t===0?0:4,'#000','y-tick');
    label(g,c.labelRight,c.tickLabelY[t/20],String(t),'y-tick-label',{size:30,anchor:'end'});
  });
  c.series.forEach((s,grp)=>{
    for(let i=0;i<6;i++) line(g,X(grp,i),Y(0),X(grp,i),Y(0)+c.tickLen,5,'#000','x-tick');
    phaseCategories.forEach((cat,i)=>label(g,c.catX[grp][i],c.catY,cat,'x-tick-label',{size:30}));
    label(g,c.cddp[grp][0],c.cddp[grp][1],'CDDP','x-tick-label-cddp',{size:31,italic:true,rot:-41});
    line(g,c.under[grp][0],c.underY,c.under[grp][1],c.underY,5.5,'#000','pte-dose-bar');
    label(g,c.pte[grp],c.pteY,'PTE (µM)','x-axis-title',{size:31});
  });
  c.brackets.forEach(b=>{
    const grp=b.grp, lx=X(grp,0)+2;
    add(g,'polyline',{points:lx+','+Y(b.base)+' '+lx+','+Y(b.level[0]),fill:'none',stroke:'#000','stroke-width':2.4},'bracket-stem');
    b.to.forEach((t,i)=>{
      const rx=X(grp,t)-(t===5?2:0);
      add(g,'polyline',{points:lx+','+Y(b.level[i])+' '+rx+','+Y(b.level[i])+' '+rx+','+Y(b.end[i]),fill:'none',stroke:'#000','stroke-width':2.4},'significance-bracket');
      stars(g,X(grp,b.starCat[i]),Y(b.starVal[i]),b.stars[i],'significance-stars',44);
    });
  });
  c.legend.forEach((l,i)=>{
    add(g,'rect',{x:c.swatch[0],y:l[0],width:c.swatch[1]-c.swatch[0],height:l[1]-l[0],fill:phaseColors[i]},'legend-swatch-'+phaseNames[i]);
    label(g,c.legendX,l[2],phaseNames[i],'legend-label-'+phaseNames[i],{size:29});
  });
}
phaseChart({name:'panel-f-phase-h358',starts:[1375.5,1675.5,1975],dx:44.9,y0:2193.6,k:5.9,bw:29.6,
 series:[[fG1,fG1Err],[fS,fSErr],[fG2,fG2Err]],ticks:fTickValues,title:'H358',titlePos:[1833,1644.5],ytX:1253,ytCenter:1930,
 axisX:1344,tickLeft:1319,axisRight:2235,labelRight:1314,tickLabelY:[2175,2063,1952,1837,1723],tickLen:22,
 catX:[[1375,1420,1462,1507,1550],[1677,1722.6,1764,1809,1852],[1975,2020,2063,2108,2150]],catY:2229.5,
 cddp:[[1614,2234],[1910,2234],[2225,2227]],under:[[1371,1575],[1666,1870],[1968,2172]],underY:2246.5,pte:[1478,1773.5,2076],pteY:2278,
 brackets:[{grp:0,to:fLeftTo,level:fLeftLevel,end:fLeftEnd,base:fLeftBase,stars:fLeftStars,starCat:fLeftStarCat,starVal:fLeftStarVal},
           {grp:2,to:fRightTo,level:fRightLevel,end:fRightEnd,base:fRightBase,stars:fRightStars,starCat:fRightStarCat,starVal:fRightStarVal}],
 swatch:[2224,2295],legend:[[1666,1683,1673],[1730,1747,1737.5],[1794,1812,1804]],legendX:2324});
phaseChart({name:'panel-h-phase-a549',starts:[1375,1666,1958],dx:43.8,y0:3021,k:6.79,bw:29,
 series:[[hG1,hG1Err],[hS,hSErr],[hG2,hG2Err]],ticks:fTickValues,title:'A549',titlePos:[1855,2407],ytX:1251,ytCenter:2720,
 axisX:1344,tickLeft:1319,axisRight:2210,labelRight:1310,tickLabelY:[3012,2874,2744.6,2613,2483],tickLen:23,
 catX:[[1375,1416,1458,1504,1546],[1667,1707,1752,1802,1844],[1960,2000,2045,2092.5,2134]],catY:3061,
 cddp:[[1608,3078],[1900,3078],[2191,3078]],under:[[1362,1565],[1656,1859],[1950,2152.5]],underY:3076,pte:[1470,1763,2057],pteY:3106,
 brackets:[{grp:0,to:hLeftTo,level:hLeftLevel,end:hLeftEnd,base:hLeftBase,stars:hLeftStars,starCat:hLeftStarCat,starVal:hLeftStarVal},
           {grp:2,to:hRightTo,level:hRightLevel,end:hRightEnd,base:hRightBase,stars:hRightStars,starCat:hRightStarCat,starVal:hRightStarVal}],
 swatch:[2201,2269.5],legend:[[2414,2433.5,2424],[2488,2507,2499],[2562,2581,2576]],legendX:2294});

/* ---------- panel letters ---------- */
panelLetter('A',62,50);panelLetter('B',1527,48);panelLetter('C',62,758);panelLetter('D',1538,759);
panelLetter('E',60,1481);panelLetter('F',1298,1478);panelLetter('G',62,2345);panelLetter('H',1327,2342);
</script>
</body></html>
